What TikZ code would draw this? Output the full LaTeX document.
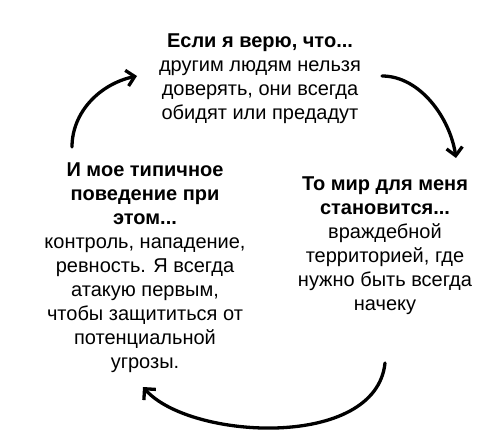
\documentclass[tikz,border=0pt]{standalone}
\usepackage{fontspec}
\setmainfont{Liberation Sans}
\usetikzlibrary{arrows.meta}
\tikzset{
  blocktext/.style={align=center, inner sep=0pt, anchor=north, font=\fontsize{20}{24}\selectfont},
  cyclearrow/.style={line width=3.3pt, -{Straight Barb[length=8pt,width=16pt]}, line cap=round}
}
\begin{document}
\begin{tikzpicture}[x=1pt,y=-1pt]
\fill[white] (0,0) rectangle (491,444);
\useasboundingbox (0,0) rectangle (491,444);
\node[blocktext] (top) at (260,34) {\textbf{Если я верю, что...}\\другим людям нельзя\\доверять, они всегда\\обидят или предадут};
\node[blocktext] (right) at (385,177) {\textbf{То мир для меня}\\\textbf{становится...}\\враждебной\\территорией, где\\нужно быть всегда\\начеку};
\node[blocktext] (left) at (145,163) {\textbf{И мое типичное}\\\textbf{поведение при}\\\textbf{этом...}\\контроль, нападение,\\ревность. Я всегда\\атакую первым,\\чтобы защититься от\\потенциальной\\угрозы.};
\coordinate (a1s) at (72,147);
\coordinate (a1e) at (137,76);
\coordinate (a2s) at (382,76);
\coordinate (a2e) at (456,158);
\coordinate (a3s) at (385,363);
\coordinate (a3e) at (143,387);
\draw[cyclearrow] (a1s) .. controls (72,112) and (100,84) .. (a1e);
\draw[cyclearrow] (a2s) .. controls (420,76) and (450,118) .. (a2e);
\draw[cyclearrow] (a3s) .. controls (376,450) and (190,440) .. (a3e);
\end{tikzpicture}
\end{document}
